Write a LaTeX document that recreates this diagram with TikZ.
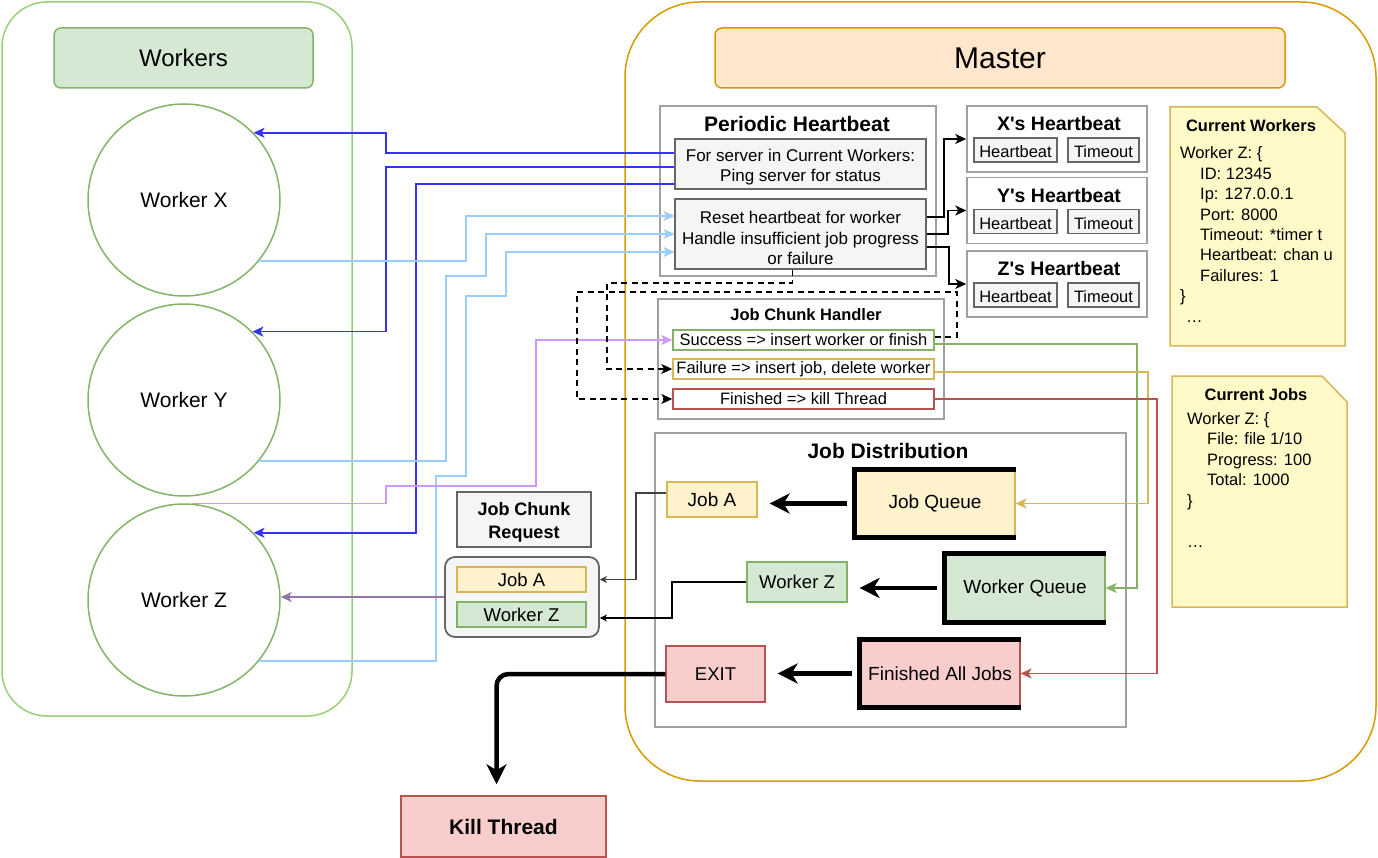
\documentclass[tikz,border=0pt]{standalone}
\usepackage{fontspec}
\setmainfont{Liberation Sans}
\usetikzlibrary{arrows.meta}
\definecolor{wgreen}{RGB}{151,208,119}
\definecolor{gfill}{RGB}{213,232,212}
\definecolor{gline}{RGB}{130,179,102}
\definecolor{mline}{RGB}{215,155,0}
\definecolor{mfill}{RGB}{255,230,204}
\definecolor{yfill}{RGB}{255,242,204}
\definecolor{yline}{RGB}{214,182,86}
\definecolor{rfill}{RGB}{248,206,204}
\definecolor{rline}{RGB}{184,84,80}
\definecolor{hfill}{RGB}{245,245,245}
\definecolor{hline}{RGB}{102,102,102}
\definecolor{grp}{RGB}{160,160,160}
\definecolor{notefill}{RGB}{255,250,200}
\definecolor{pingc}{RGB}{51,51,255}
\definecolor{beatc}{RGB}{153,204,255}
\definecolor{lilac}{RGB}{204,153,255}
\definecolor{plum}{RGB}{150,115,166}

\begin{document}
\begin{tikzpicture}[x=1pt,y=-1pt]
\tikzstyle{every node}=[inner sep=0pt, align=center, font=\fontsize{18}{21}\selectfont]
\tikzstyle{panel}=[draw, line width=1.5pt]
\tikzstyle{group}=[draw=grp, line width=1.5pt, fill=white]
\tikzstyle{grey}=[draw=hline, fill=hfill, line width=1.2pt]
\tikzstyle{item}=[line width=1.2pt]
\tikzstyle{slot}=[draw, fill=white, line width=1.5pt, minimum width=261, minimum height=20, font=\fontsize{16.5}{20}\selectfont]
\tikzstyle{conn}=[line width=1.5pt, -{Stealth[length=11pt,width=10pt,inset=3pt]}]
\tikzstyle{thinconn}=[line width=1.2pt, -{Stealth[length=7pt,width=7pt,inset=2pt]}]
\tikzstyle{bigarrow}=[line width=4.5pt, -{Stealth[length=20pt,width=20pt,inset=6pt]}, shorten >=12pt, shorten <=7pt]
\tikzstyle{dashline}=[conn, black, dash pattern=on 6pt off 4.5pt]
\useasboundingbox (0,0) rectangle (1378,858);

% workers side
\node[panel, draw=wgreen, rounded corners=45pt, minimum width=350, minimum height=714] (workers) at (177,359) {};
\node[panel, draw=gline, fill=gfill, rounded corners=7pt, minimum width=259, minimum height=60, font=\fontsize{24}{28}\selectfont] (wtitle) at (183.5,58) {Workers};
\foreach \n/\W/\yc in {x/X/200, y/Y/400, z/Z/600}
  \node[panel, circle, draw=gline, minimum size=192, font=\fontsize{21}{25}\selectfont] (w\n) at (184,\yc) {Worker \W};

% master side
\node[panel, draw=mline, rounded corners=75pt, minimum width=751, minimum height=779] (master) at (1000.5,391.5) {};
\node[panel, draw=mline, fill=mfill, rounded corners=7pt, minimum width=570, minimum height=60, font=\fontsize{30}{34}\selectfont] (mtitle) at (1000,58) {Master};

% periodic heartbeat
\node[group, minimum width=276, minimum height=170] (hb) at (798,191) {};
\node[font=\bfseries\fontsize{21}{25}\selectfont] (hbtitle) at (797,124) {Periodic Heartbeat};
\node[grey, minimum width=251, minimum height=50] (ping) at (800.5,164) {};
\node[font=\fontsize{17}{20}\selectfont] (pingtext) at (800.5,167) {For server in Current Workers:\\Ping server for status};
\node[grey, minimum width=251, minimum height=70] (reset) at (800.5,234) {};
\node[font=\fontsize{17}{20.5}\selectfont] (resettext) at (800.5,238) {Reset heartbeat for worker\\Handle insufficient job progress\\or failure};

\foreach \n/\W/\yc in {x/X/139, y/Y/210.5, z/Z/284}{
  \node[group, minimum width=180, minimum height=66] (h\n) at (1057,\yc) {};
  \node[font=\bfseries\fontsize{19.5}{23}\selectfont] (h\n title) at (1059,\yc-15) {\W\textquotesingle s Heartbeat};
  \node[grey, minimum width=83, minimum height=24, font=\fontsize{16.5}{20}\selectfont] (h\n beat) at (1015.5,\yc+11) {\raisebox{-2pt}[\height][0pt]{Heartbeat}};
  \node[grey, minimum width=71, minimum height=24, font=\fontsize{16.5}{20}\selectfont] (h\n out) at (1103.5,\yc+11) {\raisebox{-2pt}[\height][0pt]{Timeout}};
}

% notes
\draw[line width=1.5pt, draw=yline, fill=notefill] (1170,107) -- (1317,107) -- (1345,133) -- (1345,346) -- (1170,346) -- cycle;
\node[font=\bfseries\fontsize{16.5}{20}\selectfont] (cwtitle) at (1251,126) {Current Workers};
\foreach \dx/\t [count=\i] in {0/Worker Z: \{, 20/ID: 12345, 20/Ip: 127.0.0.1, 20/Port: 8000, 20/Timeout: *timer t, 20/Heartbeat: chan u, 20/Failures: 1, 0/\}, 6/…}
  \node[anchor=base west, font=\fontsize{16.5}{20}\selectfont] (cw\i) at (1180+\dx,159+20.4*\i-20.4) {\t};

\draw[line width=1.5pt, draw=yline, fill=notefill] (1172,376) -- (1322,376) -- (1347,402) -- (1347,607) -- (1172,607) -- cycle;
\node[font=\bfseries\fontsize{16.5}{20}\selectfont] (cjtitle) at (1256,395) {Current Jobs};
\foreach \dx/\yy/\t [count=\i] in {0/424/Worker Z: \{, 20/444.5/{File: file 1/10}, 20/465/Progress: 100, 20/485.5/Total: 1000, 0/506/\}, 0/547/…}
  \node[anchor=base west, font=\fontsize{16.5}{20}\selectfont] (cj\i) at (1187+\dx,\yy) {\t};

% job chunk handler
\node[group, minimum width=286, minimum height=120] (jch) at (801,359) {};
\node[font=\bfseries\fontsize{16.5}{20}\selectfont] (jchtitle) at (806,315) {Job Chunk Handler};
\node[slot, draw=gline] (succ) at (803.5,340) {Success => insert worker or finish};
\node[slot, draw=yline] (fail) at (803.5,369) {Failure => insert job, delete worker};
\node[slot, draw=rline] (fin) at (803.5,399) {Finished => kill Thread};

% job distribution
\node[group, minimum width=471, minimum height=294] (dist) at (890.5,580) {};
\node[font=\bfseries\fontsize{21}{25}\selectfont] (disttitle) at (888,451) {Job Distribution};
\node[item, draw=yline, fill=yfill, minimum width=90, minimum height=35, font=\fontsize{19}{22}\selectfont] (ja) at (712,499.5) {Job A};
\node[item, draw=yline, fill=yfill, minimum width=160, minimum height=67, font=\fontsize{19}{22}\selectfont] (jq) at (935,503.5) {Job Queue};
\node[item, draw=gline, fill=gfill, minimum width=100, minimum height=40, font=\fontsize{18.5}{22}\selectfont] (wzd) at (797,582) {Worker Z};
\node[item, draw=gline, fill=gfill, minimum width=160, minimum height=68, font=\fontsize{19}{22}\selectfont] (wq) at (1025,588) {Worker Queue};
\node[item, draw=rline, fill=rfill, minimum width=99, minimum height=56, font=\fontsize{18.5}{22}\selectfont] (exit) at (715.5,674) {EXIT};
\node[item, draw=rline, fill=rfill, minimum width=160, minimum height=67, font=\fontsize{19}{22}\selectfont] (fa) at (940,673.5) {Finished All Jobs};
\foreach \q in {jq, wq, fa}
  \draw[line width=4.5pt] (\q.north east) -- (\q.north west) -- (\q.south west) -- (\q.south east);

% job chunk request
\node[grey, minimum width=134, minimum height=55] (jcr) at (524,519.5) {};
\node[font=\bfseries\fontsize{18}{22.5}\selectfont] (jcrtext) at (524,522.5) {Job Chunk\\Request};
\node[grey, rounded corners=10pt, line width=1.8pt, minimum width=154, minimum height=80] (req) at (522,597) {};
\node[item, draw=yline, fill=yfill, minimum width=129, minimum height=25, font=\fontsize{18.5}{22}\selectfont] (rja) at (521.5,579.5) {Job A};
\node[item, draw=gline, fill=gfill, minimum width=129, minimum height=25, font=\fontsize{18.5}{22}\selectfont] (rwz) at (521.5,614.5) {Worker Z};

\node[item, line width=1.5pt, draw=rline, fill=rfill, minimum width=205, minimum height=61, font=\bfseries\fontsize{21}{25}\selectfont] (kill) at (503.5,826.5) {Kill Thread};

% pings to workers
\draw[conn, pingc] (ping.west |- 0,153) -- (386,153) |- (wx.44);
\draw[conn, pingc] (ping.west |- 0,167) -- (386,167) |- (wy.45);
\draw[conn, pingc] (ping.west |- 0,184) -- (416,184) |- (wz.44);

% heartbeats back
\draw[conn, beatc] (wx.-39) -| (466,216) -- (reset.west |- 0,216);
\draw[conn, beatc] (wy.-39) -| (446,276) -| (486,234) -- (reset.west |- 0,234);
\draw[conn, beatc] (wz.-39) -| (436,476) -| (466,296) -| (506,252) -- (reset.west |- 0,252);

% job chunk from worker Z
\draw[conn, lilac] (wz.85) -| (386,486) -| (536,340) -- (succ.west);

% reset to the heartbeat timers
\draw[conn, black] (reset.east |- 0,217) -- (944,217) |- (hx.west);
\draw[conn, black] (reset.east |- 0,234) -- (948,234) |- (hy.west);
\draw[conn, black] (reset.east |- 0,247) -- (949,247) |- (hz.west);

% dashed
\draw[dashline] ([xshift=-8pt]reset.south) |- (607,283) |- (fail.west);
\draw[dashline] (succ.east |- 0,337) -| (957,292) -| (577,399) -- (fin.west);

% handler to queues
\draw[conn, gline] (succ.east |- 0,344) -- (1137,344) |- (wq.east);
\draw[conn, yline] (fail.east |- 0,372) -- (1148,372) |- (jq.east);
\draw[conn, rline] (fin.east) -- (1157,399) |- (fa.east);

% queues
\draw[bigarrow] (jq.west) -- (ja.east |- jq.west);
\draw[bigarrow] (wq.west) -- (wzd.east |- wq.west);
\draw[bigarrow] (fa.west) -- (exit.east |- fa.west);
\draw[bigarrow, rounded corners=12pt, shorten <=0pt, shorten >=11pt] (exit.west) -| ([xshift=-7pt]kill.north);

% request back to worker Z
\draw[thinconn, black!75] (ja.west |- 0,493) -- (636,493) |- (req.east |- rja);
\draw[thinconn, black] (wzd.west) -- (672,582) |- (req.east |- 0,618);
\draw[conn, plum] (req.west) -- (wz.east |- req.west);
\end{tikzpicture}
\end{document}
